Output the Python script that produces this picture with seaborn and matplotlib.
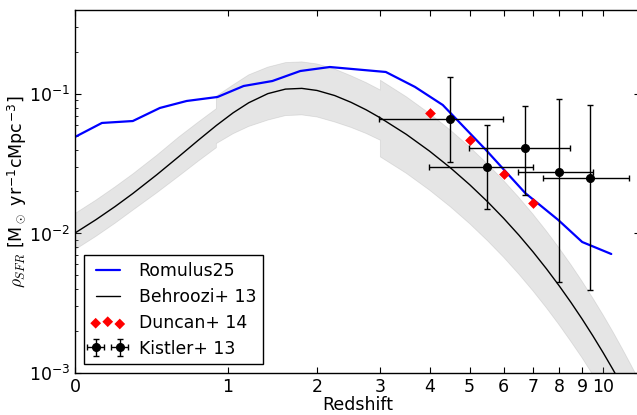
import numpy as np
import pandas as pd
import matplotlib
matplotlib.use('Agg')
import matplotlib.pyplot as plt
import seaborn as sns

# Romulus25 cosmic SFR density
rom_z = [0.0, 0.13, 0.30, 0.47, 0.66, 0.91, 1.15, 1.45, 1.78, 2.18, 3.10, 3.68, 4.31,
         5.46, 6.72, 7.97, 9.0, 10.41]
rom_sfr = [0.0492, 0.0620, 0.0640, 0.0794, 0.0891, 0.0952, 0.1141, 0.1239, 0.1461, 0.1561,
           0.1438, 0.1124, 0.0834, 0.0397, 0.0195, 0.0125, 0.00869, 0.00713]

# Behroozi+ 13 fit
beh_z = [0, 0.1, 0.2, 0.3, 0.45, 0.6, 0.75, 0.9, 1.05, 1.2, 1.4, 1.6, 1.8, 2.0, 2.25, 2.5,
         2.75, 3.0, 3.5, 4, 4.5, 5, 5.5, 6, 6.5, 7, 7.5, 8, 8.5, 9, 9.5, 10, 10.5, 11, 11.5, 12]
beh_sfr = [0.01008, 0.01257, 0.01562, 0.01934, 0.0264, 0.03546, 0.04661, 0.0595,
           0.0733, 0.0865, 0.1006, 0.1084, 0.1097, 0.1060, 0.0975, 0.0872, 0.0770, 0.0674,
           0.05136, 0.03896, 0.02953, 0.02238, 0.01696, 0.01285, 0.00974, 0.00738, 0.00559,
           0.004235, 0.003209, 0.002432, 0.001842, 0.001396, 0.001058, 0.000801, 0.000607, 0.00046]

# Behroozi+ 13 uncertainty band (steps at z~0.9 and z=3)
band_z = [0, 0.1, 0.2, 0.3, 0.45, 0.6, 0.75, 0.9,
          0.9, 1.05, 1.2, 1.4, 1.6, 1.8, 2.0, 2.25, 2.5, 2.75, 3.0,
          3.0, 3.5, 4, 4.5, 5, 5.5, 6, 6.5, 7, 7.5, 8, 8.5, 9, 9.5, 10, 10.5, 11, 11.5, 12, 12.5, 13]
band_hi = [0.0139, 0.01735, 0.0216, 0.0267, 0.0364, 0.0490, 0.0629, 0.0785,
           0.0965, 0.1162, 0.1371, 0.1558, 0.1679, 0.1699, 0.1642, 0.1510, 0.1351, 0.1207, 0.1068,
           0.1255, 0.0956, 0.0725, 0.0550, 0.0417, 0.0316, 0.02393, 0.01814, 0.01374, 0.01041,
           0.00789, 0.00598, 0.00453, 0.00343, 0.00260, 0.00197, 0.00149, 0.00113, 0.000857,
           0.00065, 0.000492]
band_lo = [0.00765, 0.00954, 0.01186, 0.01468, 0.01957, 0.02567, 0.0330, 0.0412,
           0.0441, 0.0519, 0.0585, 0.0650, 0.0700, 0.0708, 0.0684, 0.0630, 0.0576, 0.0521, 0.0466,
           0.0354, 0.0270, 0.02045, 0.01550, 0.01175, 0.00890, 0.00675, 0.00511, 0.00387, 0.00293,
           0.00222, 0.00168, 0.00128, 0.000967, 0.000733, 0.000555, 0.00042, 0.00032, 0.00024,
           0.000183, 0.000139]

# Duncan+ 14
dun_z = [4, 5, 6, 7]
dun_sfr = [0.073, 0.047, 0.0267, 0.0166]

# Kistler+ 13
kis_z = [4.48, 5.48, 6.73, 7.98, 9.38]
kis_zerr = [1.5, 1.5, 1.75, 1.5, 2.0]
kis_sfr = [0.066, 0.0302, 0.041, 0.0276, 0.0249]
kis_hi = [0.132, 0.060, 0.082, 0.0925, 0.0838]
kis_lo = [0.0327, 0.0149, 0.0189, 0.00451, 0.00394]

sns.set_style('ticks')
plt.rcParams['font.family'] = ['DejaVu Sans']
plt.rcParams['mathtext.fontset'] = 'cm'
plt.rcParams['axes.edgecolor'] = 'k'
plt.rcParams['axes.linewidth'] = 1.0
plt.rcParams['font.size'] = 12
for key in ['text.color', 'axes.labelcolor', 'xtick.color', 'ytick.color']:
    plt.rcParams[key] = 'k'

fig = plt.figure(figsize=(6.37, 4.15), dpi=100)
ax = fig.add_axes([75/637, 42/415, 565/637, 363/415])
ax.set_xscale('function', functions=(lambda z: np.log10(1 + z), lambda x: 10**x - 1))
ax.set_yscale('log')

ax.fill_between(band_z, band_lo, band_hi, color='0.5', alpha=0.2, lw=0.6)
sns.lineplot(x=rom_z, y=rom_sfr, ax=ax, color='#0000ff', lw=1.6, label='Romulus25')
sns.lineplot(x=beh_z, y=beh_sfr, ax=ax, color='k', lw=1.0, label='Behroozi+ 13')
sns.scatterplot(x=dun_z, y=dun_sfr, ax=ax, color='#ff0000', marker='D', s=30,
                linewidth=0, label='Duncan+ 14', zorder=3)
kis_yerr = [np.array(kis_sfr) - np.array(kis_lo), np.array(kis_hi) - np.array(kis_sfr)]
ax.errorbar(kis_z, kis_sfr, xerr=kis_zerr, yerr=kis_yerr, fmt='o', color='k', ms=5.5,
            capsize=2, elinewidth=1, label='Kistler+ 13', zorder=4)

ax.set_xlim(0, 12)
ax.set_ylim(1e-3, 0.4)
ticks = list(range(11))
ax.set_xticks(ticks)
ax.set_xticklabels([str(t) for t in ticks])
ax.tick_params(which='both', direction='in', top=True, right=True, labelsize=12.5,
               color='k', labelcolor='k')
ax.tick_params(which='major', length=4, width=0.8)
ax.tick_params(which='minor', length=2, width=0.6)
ax.tick_params(axis='x', which='minor', top=False, bottom=False)

ax.set_xlabel('Redshift', fontsize=12.5, labelpad=0, color='k')
ax.set_ylabel(r'$\rho_{SFR}$ [M$_\odot$ yr$^{\mathregular{-1}}$cMpc$^{\mathregular{-3}}$]',
              fontsize=12.5, labelpad=0, color='k')

leg = ax.legend(loc='lower left', numpoints=2, scatterpoints=3, fancybox=False, edgecolor='k',
                framealpha=1, handlelength=2.0, fontsize=12.4, borderaxespad=0.5,
                labelspacing=0.45)
leg.get_frame().set_linewidth(1.0)
for t in leg.get_texts():
    t.set_color('k')

fig.savefig('out.png', dpi=100)
